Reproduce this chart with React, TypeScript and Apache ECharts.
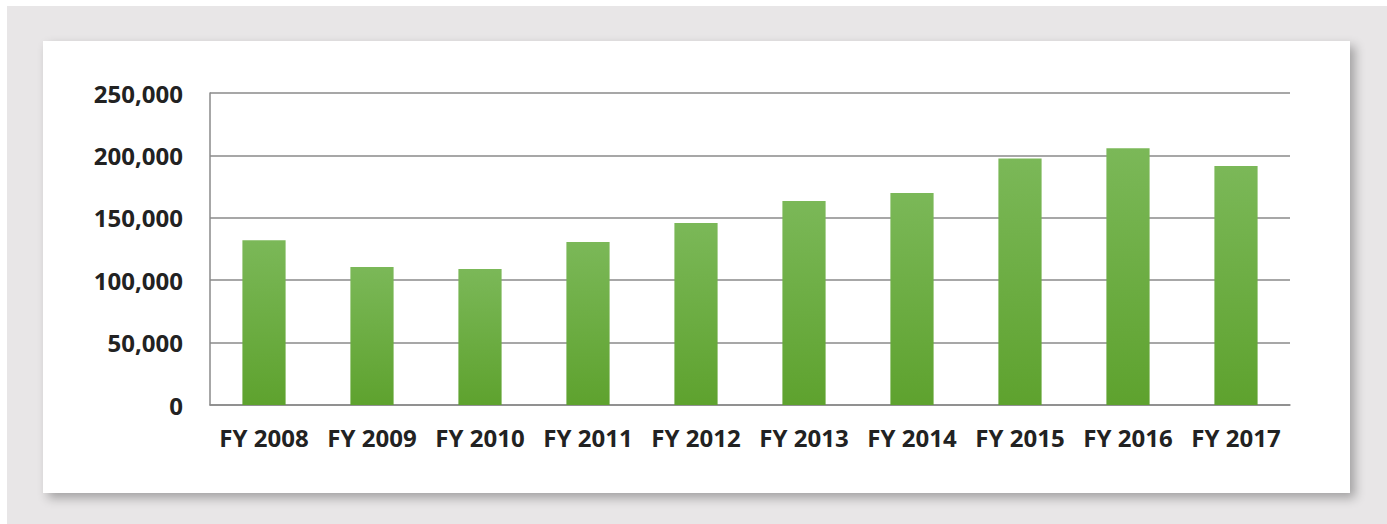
import React, { useEffect, useRef } from "react";
import * as echarts from "echarts";

const categories = ["FY 2008", "FY 2009", "FY 2010", "FY 2011", "FY 2012", "FY 2013", "FY 2014", "FY 2015", "FY 2016", "FY 2017"];
const values = [132000, 110600, 109000, 130600, 145800, 163500, 169900, 197500, 205700, 191500];

export default function App() {
  const ref = useRef<HTMLDivElement>(null);
  useEffect(() => {
    if (!ref.current) return;
    const chart = echarts.init(ref.current, null, { renderer: "svg" });
    chart.setOption({
      animation: false,
      grid: { left: 167, top: 52, right: 60, bottom: 88, containLabel: false },
      xAxis: {
        type: "category",
        data: categories,
        axisLine: { show: true, lineStyle: { color: "#8a8a8a", width: 1.5 } },
        axisTick: { show: false },
        axisLabel: {
          interval: 0,
          hideOverlap: false,
          color: "#222",
          fontFamily: "Open Sans",
          fontWeight: "bold",
          fontSize: 24,
          margin: 20,
        },
      },
      yAxis: {
        type: "value",
        min: 0,
        max: 250000,
        interval: 50000,
        axisLine: { show: true, lineStyle: { color: "#8a8a8a", width: 1.5 } },
        axisTick: { show: false },
        splitLine: { lineStyle: { color: "#8a8a8a", width: 1.5 } },
        axisLabel: {
          color: "#222",
          fontFamily: "Open Sans",
          fontWeight: "bold",
          fontSize: 24,
          margin: 27,
          formatter: (v: number) => v.toLocaleString("en-US"),
        },
      },
      series: [
        {
          type: "bar",
          data: values,
          barWidth: "40%",
          itemStyle: {
            color: new echarts.graphic.LinearGradient(0, 0, 0, 1, [
              { offset: 0, color: "#7bb858" },
              { offset: 1, color: "#5ea22e" },
            ]),
          },
        },
      ],
    });
    return () => chart.dispose();
  }, []);

  return (
    <div style={{ position: "fixed", left: 7, top: 6, right: 0, bottom: 0, background: "#e8e6e7" }}>
      <div
        style={{
          position: "absolute",
          left: 36,
          top: 35,
          width: 1307,
          height: 452,
          background: "#ffffff",
          boxShadow: "5px 5px 10px rgba(0,0,0,0.3)",
        }}
      >
        <div ref={ref} style={{ width: 1307, height: 452 }} />
      </div>
    </div>
  );
}
